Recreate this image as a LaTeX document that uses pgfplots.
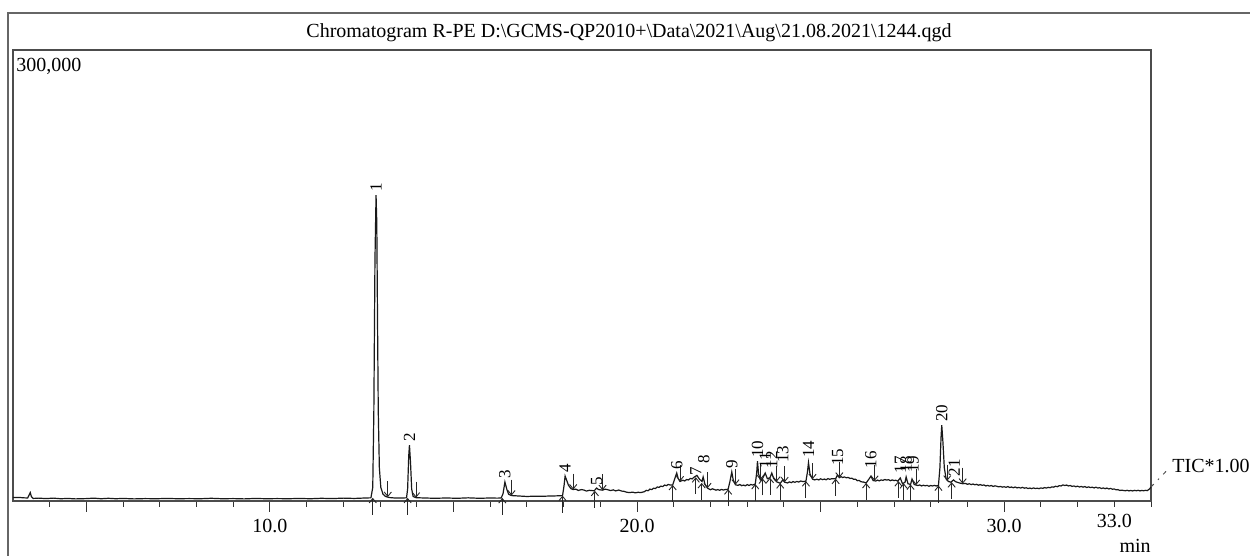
\documentclass[border=0pt]{standalone}
\usepackage{fontspec}
\setmainfont{Liberation Serif}
\usepackage{pgfplots}
\pgfplotsset{compat=1.18}
\usetikzlibrary{arrows.meta}

% start / end markers of the integrated peaks (low-level pgf, so that the
% offsets stay in pt inside the axis)
\pgfdeclareplotmark{uarr}{%
  \pgfsetarrowsend{Straight Barb[length=2.2pt,width=3.6pt]}%
  \pgfpathmoveto{\pgfpoint{0pt}{-8.5pt}}\pgfpathlineto{\pgfpointorigin}\pgfusepath{stroke}}
\pgfdeclareplotmark{darr}{%
  \pgfsetarrowsend{Straight Barb[length=2.2pt,width=3.6pt]}%
  \pgfpathmoveto{\pgfpoint{0pt}{8pt}}\pgfpathlineto{\pgfpointorigin}\pgfusepath{stroke}}

\newcommand{\bs}{\textbackslash}

\begin{document}
\begin{tikzpicture}
% page = 1250 x 556 px at 0.5pt per px, axis origin at px (13,501)
\path[use as bounding box] (-6.5pt,-27.5pt) rectangle (618.5pt,250.5pt);
\draw[black!60, line width=0.8pt] (-2.5pt,-30pt) -- (-2.5pt,244pt) -- (622pt,244pt);

\begin{axis}[
  at={(0pt,0pt)}, anchor=south west,
  scale only axis, width=569pt, height=225.5pt,
  xmin=3, xmax=34, ymin=0, ymax=300000,
  clip=false,
  axis line style={draw=black!70, line width=0.8pt},
  ytick=\empty,
  xtick pos=bottom, tick align=outside,
  xtick={5,10,15,20,25,30},
  xticklabels={,10.0,,20.0,,30.0},
  extra x ticks={33}, extra x tick labels={33.0},
  extra x tick style={major tick length=3pt},
  minor xtick={4,5,...,34},
  major tick length=5.5pt, minor tick length=3pt,
  tick style={black!80, line width=0.5pt},
  xticklabel style={font=\fontsize{10}{12}\selectfont},
  /pgf/number format/assume math mode=true,
  xlabel={min},
  xlabel style={at={(rel axis cs:0.986,0)}, anchor=base, inner sep=0pt, yshift=-26pt, font=\fontsize{10}{12}\selectfont},
]

% total ion current
\addplot[black!90, line width=0.6pt] table {
t v
3.00 2300
3.10 2300
3.20 2300
3.30 2100
3.40 2000
3.44 4000
3.47 5600
3.50 3000
3.55 1700
3.70 1900
3.90 1600
4.10 1900
4.30 1500
4.50 1700
4.70 1400
5.00 1600
5.20 1900
5.40 1500
5.60 1800
5.80 1500
6.00 1700
6.30 1400
6.60 1600
6.90 1500
7.20 1700
7.50 1500
7.80 1600
8.10 1500
8.40 1800
8.70 1500
9.00 1600
9.30 1400
9.60 1700
9.90 1500
10.20 1600
10.50 1500
10.80 1700
11.10 1500
11.40 1800
11.70 1600
12.00 1900
12.30 1700
12.60 2000
12.75 2100
12.80 9000
12.83 60000
12.86 160000
12.89 203500
12.91 185000
12.93 120000
12.95 60000
12.98 22000
13.02 9000
13.08 4500
13.15 3000
13.25 2300
13.40 2000
13.60 2000
13.72 2100
13.75 8000
13.78 30000
13.80 37200
13.83 25000
13.86 8000
13.90 3000
13.98 2200
14.20 2000
14.50 1800
14.80 2000
15.10 1800
15.40 2100
15.70 1800
16.00 2000
16.20 1900
16.30 2000
16.35 5000
16.40 12600
16.45 8000
16.50 4500
16.58 3600
16.80 3300
17.00 3000
17.20 3200
17.40 3100
17.60 3300
17.80 3400
17.97 3600
18.01 10000
18.04 16600
18.08 14000
18.13 10500
18.20 8200
18.26 7600
18.33 7900
18.40 7000
18.48 7600
18.55 7300
18.62 6600
18.70 7100
18.83 6800
18.87 7800
18.90 8600
18.95 7600
19.06 7200
19.13 7900
19.20 7500
19.28 6900
19.35 7400
19.42 6700
19.50 7300
19.58 6600
19.65 6400
19.72 5800
19.80 5600
19.88 5900
19.95 5400
20.03 5800
20.10 5600
20.20 6200
20.25 7100
20.30 6800
20.35 7900
20.40 7600
20.45 8500
20.50 8300
20.55 9300
20.60 9100
20.65 9900
20.70 9600
20.75 10600
20.80 10200
20.85 11000
20.90 10600
20.97 10700
21.03 15000
21.08 18600
21.12 15000
21.17 13000
21.25 13800
21.30 13300
21.35 14300
21.40 14000
21.45 15000
21.50 14700
21.55 15800
21.63 17000
21.70 14500
21.77 13000
21.80 16000
21.85 11000
21.92 8500
22.00 7500
22.05 8100
22.10 7700
22.15 7200
22.20 7600
22.25 7100
22.30 7700
22.35 7300
22.40 7600
22.48 7800
22.53 13000
22.58 19300
22.62 14000
22.68 10800
22.75 10400
22.80 11000
22.85 10200
22.90 10600
22.95 10100
23.00 10900
23.05 10300
23.10 11000
23.15 10600
23.22 11300
23.26 19000
23.28 26500
23.31 18000
23.36 14000
23.42 15000
23.49 18600
23.55 14800
23.62 15500
23.67 18600
23.72 15000
23.80 12800
23.90 11800
23.97 14000
24.02 12500
24.10 12000
24.15 12700
24.20 12200
24.25 12900
24.30 12400
24.35 13000
24.40 12600
24.46 13300
24.52 12900
24.60 13200
24.64 19000
24.67 25500
24.71 18000
24.78 14500
24.84 14000
24.90 14500
24.95 14000
25.00 14800
25.05 14200
25.10 14600
25.15 14100
25.20 14900
25.25 14400
25.30 14800
25.41 14800
25.46 17300
25.51 15500
25.56 16200
25.60 15600
25.65 16000
25.70 15400
25.75 15700
25.80 15000
25.85 15200
25.90 14400
25.95 14500
26.00 13500
26.05 13700
26.10 12800
26.17 12600
26.24 12000
26.30 14000
26.37 16500
26.43 13600
26.50 13300
26.55 13900
26.60 13400
26.65 14000
26.70 13700
26.75 14300
26.80 13900
26.85 14200
26.90 13500
26.95 14000
27.00 13600
27.05 13800
27.10 13200
27.17 15300
27.23 11500
27.30 12500
27.33 16000
27.38 11500
27.45 11000
27.49 14600
27.55 11000
27.60 10600
27.65 10300
27.70 10700
27.75 10000
27.80 10500
27.85 10100
27.90 10400
27.95 9800
28.00 10300
28.05 10000
28.10 10400
28.15 10000
28.21 10300
28.25 22000
28.28 42000
28.30 50500
28.33 40000
28.37 22000
28.42 14600
28.48 13000
28.55 12500
28.62 14000
28.68 12800
28.78 12000
28.87 11500
28.95 11700
29.00 11100
29.05 11500
29.10 10900
29.15 11300
29.20 10800
29.25 11100
29.30 10500
29.35 10900
29.40 10400
29.45 10700
29.50 10000
29.55 10400
29.60 9900
29.65 10300
29.70 9700
29.75 10100
29.80 9800
29.85 9400
29.90 9700
29.95 9200
30.00 9500
30.05 9100
30.10 9600
30.15 9000
30.20 9300
30.25 8800
30.30 9300
30.35 8700
30.40 9000
30.45 8600
30.50 9100
30.55 8500
30.60 8800
30.65 8300
30.70 8600
30.75 8200
30.80 8700
30.85 8300
30.90 8500
30.95 8200
31.00 8700
31.05 8400
31.10 8900
31.15 8600
31.20 9100
31.25 8800
31.30 9400
31.35 9200
31.40 9800
31.45 9500
31.50 10200
31.55 10000
31.60 10700
31.65 10300
31.70 10600
31.75 10000
31.80 10300
31.85 9700
31.90 10000
31.95 9500
32.00 9900
32.05 9300
32.10 9700
32.15 9200
32.20 9600
32.25 9000
32.30 9400
32.35 8900
32.40 9200
32.45 8700
32.50 9200
32.55 8600
32.60 8900
32.65 8300
32.70 8700
32.75 8200
32.80 8600
32.85 8000
32.90 8400
32.95 7800
33.00 8000
33.05 7400
33.10 7600
33.15 7000
33.20 7200
33.30 6800
33.35 7100
33.40 6700
33.45 7000
33.50 6700
33.55 7100
33.60 6800
33.65 7100
33.70 6700
33.75 7000
33.80 6800
33.85 7100
33.90 6900
33.96 8000
34.00 9300
};

% peak start markers
\addplot[only marks, mark=uarr, mark options={black!85, line width=0.45pt}] table {
t v
12.80 2100
13.75 2100
16.33 2000
17.97 3600
18.85 6800
20.97 10700
21.60 15800
21.76 12000
22.48 7800
23.22 11300
23.42 15000
23.62 15500
23.90 11800
24.60 13200
25.41 14800
26.24 12000
27.12 13200
27.26 11800
27.45 11000
28.21 10300
28.57 12500
};

% peak end markers
\addplot[only marks, mark=darr, mark options={black!85, line width=0.45pt}] table {
t v
13.21 2600
13.98 2200
16.58 3600
18.26 7600
19.06 7200
21.17 13000
21.92 8500
22.68 10800
23.36 14000
23.80 12800
24.02 12500
24.78 14500
25.51 15500
26.47 13400
27.60 10600
28.45 13500
28.87 11500
};

% peak numbers
\addplot[only marks, mark=none, nodes near coords, point meta=explicit symbolic,
  every node near coord/.append style={rotate=90, anchor=west, inner sep=0.8pt,
    font=\fontsize{8.5}{9}\selectfont}]
  table[meta=lab] {
t v lab
12.89 204500 1
13.80 38000 2
16.40 13500 3
18.04 17500 4
18.90 9000 5
21.08 19500 6
21.60 15500 7
21.82 23500 8
22.58 20000 9
23.28 27500 10
23.49 20600 11
23.67 20600 12
23.97 24000 13
24.67 27500 14
25.46 22000 15
26.37 20500 16
27.17 17000 17
27.33 17300 18
27.52 17300 19
28.30 51500 20
28.64 15000 21
};

% link to the trace label
\addplot[black!70, line width=0.5pt, dash pattern=on 2pt off 3pt on 0.8pt off 3pt] coordinates {(34,9300) (34.52,22500)};

\node[anchor=base, inner sep=0pt, font=\fontsize{10}{12}\selectfont]
  at (rel axis cs:0.5413,1) [yshift=6pt]
  {Chromatogram R-PE D:\bs{}GCMS-QP2010+\bs{}Data\bs{}2021\bs{}Aug\bs{}21.08.2021\bs{}1244.qgd};
\node[anchor=base west, inner sep=0pt, font=\fontsize{10}{12}\selectfont]
  at (rel axis cs:0,1) [xshift=1.5pt, yshift=-10.75pt] {300,000};
\node[anchor=base west, inner sep=0pt, font=\fontsize{10}{12}\selectfont]
  at (rel axis cs:1,0) [xshift=10.5pt, yshift=14pt] {TIC*1.00};
\end{axis}
\end{tikzpicture}
\end{document}
